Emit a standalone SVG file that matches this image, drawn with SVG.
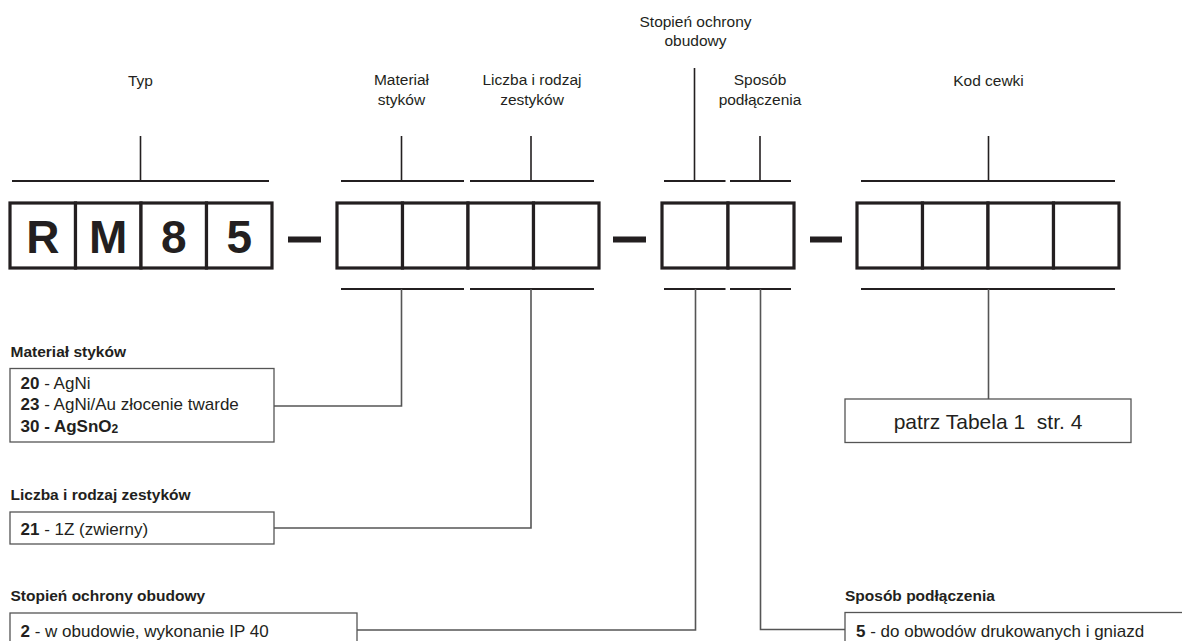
<svg xmlns="http://www.w3.org/2000/svg" width="1182" height="641" viewBox="0 0 1182 641">
<style>
text{font-family:"Liberation Sans",Arial,sans-serif;fill:#231f20}
.lbl{font-size:15.5px;text-anchor:middle}
.ttl{font-size:15.5px;font-weight:bold}
.body{font-size:17px}
.b{font-weight:bold}
.big{font-size:46px;font-weight:bold;text-anchor:middle}
.cell{fill:#fff;stroke:#231f20;stroke-width:3.2}
.dash{fill:#231f20}
.bar{stroke:#231f20;stroke-width:2;fill:none}
.tick{stroke:#231f20;stroke-width:1.6;fill:none}
.conn{stroke:#555;stroke-width:1.6;fill:none}
.tbox{fill:#fff;stroke:#555;stroke-width:1.3}
</style>

<g id="connectors">
  <line class="bar" x1="12" y1="181" x2="269" y2="181"/>
  <line class="tick" x1="140.5" y1="136" x2="140.5" y2="181"/>
  <line class="bar" x1="341" y1="181" x2="464" y2="181"/>
  <line class="tick" x1="401.5" y1="136" x2="401.5" y2="181"/>
  <line class="bar" x1="470" y1="181" x2="594" y2="181"/>
  <line class="tick" x1="531" y1="136" x2="531" y2="181"/>
  <line class="bar" x1="664" y1="181" x2="725.5" y2="181"/>
  <line class="tick" x1="694.5" y1="68" x2="694.5" y2="181"/>
  <line class="bar" x1="730" y1="181" x2="791" y2="181"/>
  <line class="tick" x1="760" y1="136" x2="760" y2="181"/>
  <line class="bar" x1="861" y1="181" x2="1115" y2="181"/>
  <line class="tick" x1="988.5" y1="136" x2="988.5" y2="181"/>
  <line class="bar" x1="341" y1="289" x2="464" y2="289"/>
  <line class="bar" x1="470" y1="289" x2="594" y2="289"/>
  <line class="bar" x1="664" y1="289" x2="725.5" y2="289"/>
  <line class="bar" x1="730" y1="289" x2="791" y2="289"/>
  <line class="bar" x1="861" y1="289" x2="1115" y2="289"/>
  <polyline class="conn" points="401.5,289 401.5,406 274,406"/>
  <polyline class="conn" points="531,289 531,528 274,528"/>
  <polyline class="conn" points="695.5,289 695.5,630 357,630"/>
  <polyline class="conn" points="760.5,289 760.5,629.5 845,629.5"/>
  <line class="conn" x1="988.5" y1="289" x2="988.5" y2="399"/>
</g>

<g id="labels-top">
  <text class="lbl" x="140.5" y="86">Typ</text>
  <text class="lbl" x="401.5" y="85">Materiał</text>
  <text class="lbl" x="401.5" y="104.5">styków</text>
  <text class="lbl" x="532" y="85">Liczba i rodzaj</text>
  <text class="lbl" x="532" y="104.5">zestyków</text>
  <text class="lbl" x="695.5" y="27">Stopień ochrony</text>
  <text class="lbl" x="695.5" y="46">obudowy</text>
  <text class="lbl" x="760" y="85">Sposób</text>
  <text class="lbl" x="760" y="104.5">podłączenia</text>
  <text class="lbl" x="988.5" y="86">Kod cewki</text>
</g>

<g id="code-type">
  <rect class="cell" x="10" y="203" width="65.5" height="65"/>
  <rect class="cell" x="75.5" y="203" width="65.5" height="65"/>
  <rect class="cell" x="141" y="203" width="65.5" height="65"/>
  <rect class="cell" x="206.5" y="203" width="65.5" height="65"/>
  <text class="big" x="42.75" y="252.5">R</text>
  <text class="big" x="108.25" y="252.5">M</text>
  <text class="big" x="173.75" y="252.5">8</text>
  <text class="big" x="239.25" y="252.5">5</text>
</g>
<rect id="dash1" class="dash" x="288" y="236.5" width="33" height="6"/>
<g id="code-material-contacts">
  <rect class="cell" x="337" y="203" width="65.5" height="65"/>
  <rect class="cell" x="402.5" y="203" width="65.5" height="65"/>
  <rect class="cell" x="468" y="203" width="65.5" height="65"/>
  <rect class="cell" x="533.5" y="203" width="65.5" height="65"/>
</g>
<rect id="dash2" class="dash" x="613" y="236.5" width="33" height="6"/>
<g id="code-protection">
  <rect class="cell" x="662" y="203" width="66" height="65"/>
  <rect class="cell" x="728" y="203" width="66" height="65"/>
</g>
<rect id="dash3" class="dash" x="810" y="236.5" width="32" height="6"/>
<g id="code-coil">
  <rect class="cell" x="857" y="203" width="65.5" height="65"/>
  <rect class="cell" x="922.5" y="203" width="65.5" height="65"/>
  <rect class="cell" x="988" y="203" width="65.5" height="65"/>
  <rect class="cell" x="1053.5" y="203" width="65.5" height="65"/>
</g>

<g id="node-material">
  <text class="ttl" x="10.5" y="357">Materiał styków</text>
  <rect class="tbox" x="10" y="368.5" width="264" height="73.5"/>
  <text class="body" x="20.5" y="388.5"><tspan class="b">20</tspan> - AgNi</text>
  <text class="body" x="20.5" y="410"><tspan class="b">23</tspan> - AgNi/Au złocenie twarde</text>
  <text class="body b" x="20.5" y="431.5">30 - AgSnO<tspan font-size="12" dy="1">2</tspan></text>
</g>

<g id="node-contacts">
  <text class="ttl" x="10.5" y="500">Liczba i rodzaj zestyków</text>
  <rect class="tbox" x="10" y="512" width="264" height="32"/>
  <text class="body" x="20.5" y="535"><tspan class="b">21</tspan> - 1Z (zwierny)</text>
</g>

<g id="node-protection">
  <text class="ttl" x="10.5" y="601">Stopień ochrony obudowy</text>
  <rect class="tbox" x="10" y="613" width="347" height="40"/>
  <text class="body" x="20.5" y="637"><tspan class="b">2</tspan> - w obudowie, wykonanie IP 40</text>
</g>

<g id="node-connection">
  <text class="ttl" x="845" y="601">Sposób podłączenia</text>
  <rect class="tbox" x="845" y="612.5" width="350" height="40"/>
  <text class="body" x="856" y="636.5"><tspan class="b">5</tspan> - do obwodów drukowanych i gniazd</text>
</g>

<g id="node-coil">
  <rect class="tbox" x="845" y="399" width="286" height="43.5"/>
  <text x="988" y="429" font-size="21" text-anchor="middle">patrz Tabela 1&#160; str. 4</text>
</g>
</svg>
